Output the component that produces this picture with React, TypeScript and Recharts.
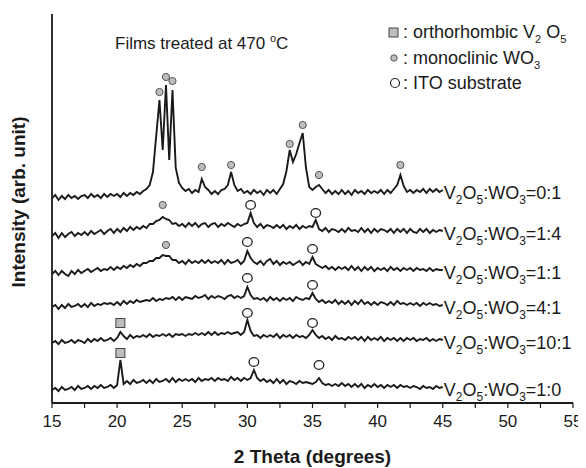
// XRD patterns of V2O5:WO3 films, stacked traces with peak markers
import React from 'react';
import { ComposedChart, Line, Scatter, XAxis, YAxis } from 'recharts';

const W = 578;
const H = 460;
const FONT = '"Liberation Sans", Arial, Helvetica, sans-serif';
const INK = '#1a1a1a';

// 2θ sampling grid (0.25° steps, 15–45)
const twoTheta = Array.from({ length: 121 }, (_, i) => 15 + i * 0.25);

const xTicks = [15, 17.5, 20, 22.5, 25, 27.5, 30, 32.5, 35, 37.5, 40, 42.5, 45, 47.5, 50, 52.5, 55];

const ratios = ['0:1', '1:4', '1:1', '4:1', '10:1', '1:0'];
// vertical stacking offset of each trace (arb. units)
const offsets = [205, 167, 129, 96, 60, 13];

// intensities above each offset
const r01 = [
  0, 3, -2, 2, -1, 3, 0, 2, -1, 2,
  3, 0, 4, 1, 3, 0, 4, 1, 4, 2,
  4, 1, 5, 2, 5, 3, 6, 4, 7, 9,
  13, 26, 62, 98, 48, 113, 38, 108, 30, 15,
  10, 7, 9, 5, 8, 6, 19, 11, 8, 4,
  7, 4, 8, 9, 13, 26, 13, 7, 9, 5,
  7, 4, 8, 5, 7, 3, 8, 5, 8, 4,
  9, 14, 27, 48, 36, 44, 55, 65, 30, 11,
  8, 11, 13, 9, 5, 8, 4, 7, 4, 8,
  4, 7, 3, 8, 5, 7, 4, 8, 5, 7,
  5, 8, 4, 8, 5, 9, 13, 23, 12, 6,
  8, 5, 8, 6, 9, 5, 9, 6, 9, 6, 8,
];
const r14 = [
  0, 3, -2, 3, -1, 2, 4, 0, 3, 1,
  4, 1, 5, 2, 4, 6, 2, 5, 7, 3,
  7, 4, 8, 5, 9, 6, 9, 7, 10, 8,
  12, 12, 15, 16, 19, 17, 16, 12, 13, 10,
  12, 9, 13, 10, 13, 9, 12, 13, 9, 12,
  13, 9, 12, 10, 13, 11, 9, 12, 10, 12,
  13, 23, 13, 9, 12, 8, 11, 10, 8, 11,
  8, 11, 7, 10, 8, 11, 7, 10, 8, 10,
  9, 16, 7, 5, 8, 4, 7, 6, 4, 7,
  4, 8, 5, 6, 4, 8, 4, 7, 3, 7,
  4, 7, 6, 4, 7, 3, 7, 4, 7, 3,
  7, 4, 3, 7, 4, 7, 3, 6, 4, 6, 5,
];
const r11 = [
  0, 3, -1, 3, 0, -2, 3, 0, 4, 1,
  3, 5, 2, 4, 6, 3, 5, 4, 7, 4,
  7, 5, 8, 6, 9, 7, 10, 8, 11, 11,
  13, 13, 16, 16, 19, 18, 18, 14, 14, 11,
  13, 10, 14, 11, 13, 11, 14, 11, 14, 11,
  13, 11, 14, 10, 14, 11, 12, 14, 10, 13,
  23, 16, 12, 10, 13, 9, 13, 15, 10, 13,
  9, 12, 10, 12, 9, 11, 13, 9, 12, 10,
  17, 10, 8, 6, 8, 5, 7, 4, 7, 5,
  7, 4, 8, 4, 7, 3, 7, 4, 7, 3,
  6, 4, 6, 3, 7, 4, 6, 3, 6, 4,
  6, 3, 6, 4, 5, 3, 6, 3, 5, 4, 4,
];
const r41 = [
  0, 2, -2, 2, -1, 3, 0, 1, 3, 0,
  3, 0, 4, 1, 3, 2, 4, 3, 4, 2,
  5, 2, 6, 3, 6, 4, 7, 5, 6, 7,
  6, 9, 6, 8, 7, 9, 8, 10, 7, 10,
  7, 10, 9, 8, 11, 9, 10, 12, 8, 11,
  9, 11, 10, 8, 11, 12, 9, 11, 9, 11,
  20, 12, 8, 9, 7, 9, 6, 10, 7, 9,
  6, 9, 7, 9, 6, 10, 8, 7, 9, 8,
  14, 8, 5, 7, 4, 6, 4, 7, 3, 6,
  3, 6, 2, 6, 3, 7, 3, 5, 2, 5,
  2, 5, 4, 2, 5, 2, 6, 3, 4, 2,
  4, 2, 4, 1, 4, 2, 4, 2, 3, 1, 2,
];
const r101 = [
  0, 2, -1, 3, 0, 1, 3, 0, 3, 2,
  0, 4, 1, 4, 2, 5, 2, 3, 5, 2,
  5, 11, 7, 4, 8, 5, 7, 6, 8, 6,
  9, 6, 8, 7, 9, 7, 9, 6, 9, 8,
  9, 7, 9, 8, 10, 8, 10, 8, 11, 8,
  11, 8, 10, 9, 11, 9, 10, 11, 8, 11,
  23, 12, 7, 8, 5, 8, 6, 8, 6, 9,
  5, 8, 6, 8, 5, 8, 6, 7, 5, 8,
  13, 8, 5, 7, 4, 6, 3, 7, 4, 5,
  3, 6, 4, 6, 3, 6, 2, 6, 3, 5,
  3, 6, 2, 5, 3, 5, 2, 5, 2, 5,
  3, 5, 2, 4, 3, 5, 2, 4, 2, 4, 3,
];
const r10 = [
  0, 2, -1, 3, 0, 1, 3, 0, 4, 1,
  2, 4, 1, 4, 2, 5, 2, 3, 5, 2,
  5, 30, 6, 9, 6, 10, 7, 8, 10, 7,
  10, 7, 11, 8, 9, 11, 8, 12, 8, 11,
  9, 11, 9, 11, 8, 12, 9, 11, 10, 12,
  9, 12, 10, 11, 9, 13, 10, 12, 9, 12,
  10, 12, 20, 12, 9, 11, 8, 10, 7, 11,
  7, 10, 6, 9, 8, 6, 9, 7, 8, 7,
  6, 8, 12, 7, 5, 6, 4, 6, 4, 7,
  4, 6, 3, 6, 3, 6, 2, 5, 3, 6,
  3, 5, 2, 5, 3, 5, 2, 5, 3, 4,
  2, 4, 3, 1, 4, 2, 3, 1, 4, 2, 3,
];
const intensities = [r01, r14, r11, r41, r101, r10];

// peak markers [2θ, level]
const wo3Marks = [
  [23.25, 311], [23.75, 326], [24.25, 322], [26.5, 236], [28.75, 238],
  [33.25, 259], [34.25, 278], [35.5, 228], [41.75, 238],
  [23.5, 198], [23.75, 158],
];
const itoMarks = [
  [30.25, 198], [35.25, 190], [30.0, 161], [35.0, 154], [30.0, 125],
  [35.0, 118], [30.0, 90], [35.0, 80], [30.5, 41], [35.5, 38],
];
const v2o5Marks = [[20.25, 80], [20.25, 50]];

const series = intensities.map((rel, k) => twoTheta.map((t, i) => ({ t, v: offsets[k] + rel[i] })));
const endLabels = series.map((pts, k) => ({ t: 45, v: pts[pts.length - 1].v, ratio: ratios[k] }));
const toPts = (arr: number[][]) => arr.map(([t, v]) => ({ t, v }));

const XTick = (props: any) => {
  const { x, y, payload } = props;
  if (payload.value % 5 !== 0) return <g />;
  return (
    <text x={x} y={y} dy={17} textAnchor="middle" fontFamily={FONT} fontSize={17} fill={INK}>
      {payload.value}
    </text>
  );
};
const NoTick = () => <g />;

const Wo3Dot = (p: any) => <circle cx={p.cx} cy={p.cy} r={3.6} fill="#bdbdbd" stroke="#555" strokeWidth={1} />;
const ItoDot = (p: any) => <ellipse cx={p.cx} cy={p.cy} rx={4.8} ry={4.3} fill="#fff" stroke="#222" strokeWidth={1.3} />;
const V2o5Dot = (p: any) => (
  <rect x={p.cx - 4.5} y={p.cy - 4.5} width={9} height={9} fill="#bdbdbd" stroke="#444" strokeWidth={1} />
);

const Sub = ({ children }: { children: React.ReactNode }) => (
  <tspan dy={5} fontSize={12}>{children}</tspan>
);

const RatioLabel = (p: any) => (
  <text x={p.cx + 1} y={p.cy + 9} fontFamily={FONT} fontSize={18} fill={INK}>
    V<Sub>2</Sub>
    <tspan dy={-5}>O</tspan><Sub>5</Sub>
    <tspan dy={-5}>:WO</tspan><Sub>3</Sub>
    <tspan dy={-5}>={p.payload.ratio}</tspan>
  </text>
);

export default function App() {
  return (
    <div style={{ position: 'relative', width: W, height: H }}>
      <ComposedChart width={W} height={H} margin={{ top: 6, right: 13, bottom: 0, left: 0 }}>
        <XAxis
          xAxisId="b" dataKey="t" type="number" domain={[15, 55]} ticks={xTicks} interval={0}
          tick={<XTick />} tickSize={5} height={65} allowDataOverflow
          axisLine={{ stroke: INK, strokeWidth: 1.8 }} tickLine={{ stroke: INK, strokeWidth: 1.2 }}
        />
        <XAxis
          xAxisId="top" orientation="top" dataKey="t" type="number" domain={[15, 55]} ticks={xTicks} interval={0}
          tick={<NoTick />} mirror height={0} tickSize={4}
          axisLine={{ stroke: INK, strokeWidth: 1.8 }} tickLine={{ stroke: INK, strokeWidth: 1.2 }}
        />
        <YAxis
          yAxisId="l" type="number" domain={[0, 389]} tick={false} tickLine={false} width={44}
          axisLine={{ stroke: INK, strokeWidth: 1.8 }}
        />
        <YAxis
          yAxisId="r" orientation="right" type="number" domain={[0, 389]} tick={false} tickLine={false} width={0}
          axisLine={{ stroke: INK, strokeWidth: 1.8 }}
        />
        {series.map((pts, k) => (
          <Line
            key={ratios[k]} xAxisId="b" yAxisId="l" data={pts} dataKey="v" type="linear"
            stroke={INK} strokeWidth={1.9} strokeLinejoin="miter" dot={false} isAnimationActive={false}
          />
        ))}
        <Scatter xAxisId="b" yAxisId="l" data={toPts(wo3Marks)} dataKey="v" shape={Wo3Dot} isAnimationActive={false} />
        <Scatter xAxisId="b" yAxisId="l" data={toPts(itoMarks)} dataKey="v" shape={ItoDot} isAnimationActive={false} />
        <Scatter xAxisId="b" yAxisId="l" data={toPts(v2o5Marks)} dataKey="v" shape={V2o5Dot} isAnimationActive={false} />
        <Scatter xAxisId="b" yAxisId="l" data={endLabels} dataKey="v" shape={RatioLabel} isAnimationActive={false} />
      </ComposedChart>

      <svg width={W} height={H} style={{ position: 'absolute', left: 0, top: 0, pointerEvents: 'none' }}>
        <g fontFamily={FONT} fill={INK}>
          <text transform="translate(10,194) rotate(-90)" textAnchor="middle" dominantBaseline="central" fontSize={19} fontWeight="bold">
            Intensity (arb. unit)
          </text>
          <text x={304.5} y={455} textAnchor="middle" fontSize={19} fontWeight="bold">2 Theta (degrees)</text>
          <text x={107} y={41} fontSize={17}>
            Films treated at 470 <tspan dy={-7} fontSize={11}>o</tspan><tspan dy={7}>C</tspan>
          </text>

          <rect x={381} y={20} width={9} height={9} fill="#bdbdbd" stroke="#444" strokeWidth={1} />
          <text x={395} y={30} fontSize={18}>
            : orthorhombic V<tspan dy={5} fontSize={11}>2</tspan>
            <tspan dy={-5}> O</tspan><tspan dy={5} fontSize={11}>5</tspan>
          </text>
          <circle cx={386} cy={50} r={3.2} fill="#bdbdbd" stroke="#555" strokeWidth={1} />
          <text x={395} y={56} fontSize={18}>
            : monoclinic WO<tspan dy={5} fontSize={11}>3</tspan>
          </text>
          <circle cx={387} cy={75} r={4.5} fill="#fff" stroke="#222" strokeWidth={1.2} />
          <text x={395} y={81} fontSize={18}>: ITO substrate</text>
        </g>
      </svg>
    </div>
  );
}
